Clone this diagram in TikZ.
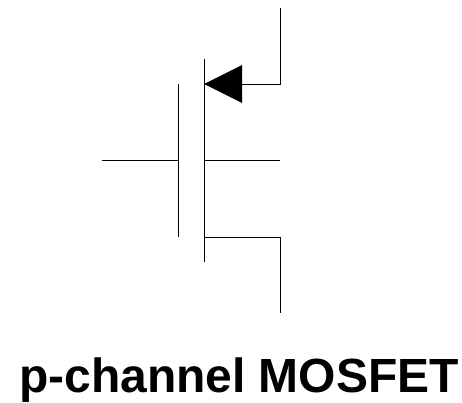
\documentclass[tikz,border=0pt]{standalone}
\usepackage{fontspec}
\setmainfont{Liberation Sans}
\usetikzlibrary{positioning, calc}
\tikzset{wire/.style={line width=0.02cm}}
\begin{document}
\begin{tikzpicture}[x=0.02cm,y=-0.02cm]
            \useasboundingbox (0,0) rectangle (462,402);
            % connection points
            \coordinate (gateend) at (102,160);
            \coordinate (gatemid) at (178,160);
            \coordinate (gatetop) at (178,84);
            \coordinate (gatebot) at (178,237);
            \coordinate (chantop) at (204,59);
            \coordinate (chanbot) at (204,262);
            \coordinate (sourcein) at (204,84);
            \coordinate (sourcecorner) at (280,84);
            \coordinate (sourceend) at (280,8);
            \coordinate (bodyin) at (204,160);
            \coordinate (bodyend) at (280,160);
            \coordinate (drainin) at (204,237);
            \coordinate (draincorner) at (280,237);
            \coordinate (drainend) at (280,313);
            \draw[wire] (gateend) -- (gatemid);
            \draw[wire] (gatetop) -- (gatebot);
            \draw[wire] (chantop) -- (chanbot);
            \draw[wire] (sourcein) -- (sourcecorner) -- (sourceend);
            \draw[wire] (bodyin) -- (bodyend);
            \draw[wire] (drainin) -- (draincorner) -- (drainend);
            \fill (sourcein) -- (242,65) -- (242,103) -- cycle;
            \node[font=\bfseries\fontsize{27.3}{32}\selectfont,anchor=base] (title) at (239,392) {p-channel MOSFET};
        \end{tikzpicture}
\end{document}
